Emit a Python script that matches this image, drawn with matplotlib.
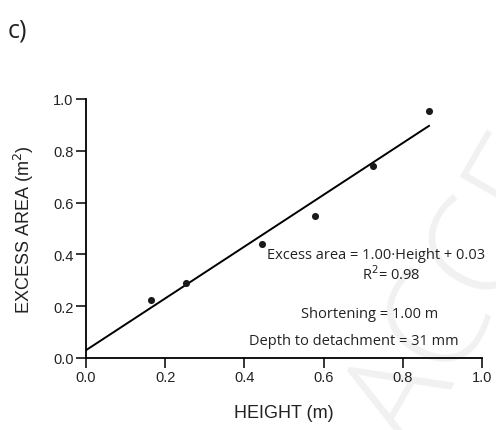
import matplotlib
matplotlib.use("Agg")
import matplotlib.pyplot as plt
import numpy as np

# measured structures: relief height vs excess area
height = [0.165, 0.252, 0.444, 0.577, 0.724, 0.866]
excess_area = [0.225, 0.290, 0.440, 0.550, 0.742, 0.954]

slope = 1.00
intercept = 0.03
r_squared = 0.98
shortening = 1.00
depth_mm = 31

ticks = [0.0, 0.2, 0.4, 0.6, 0.8, 1.0]

fig = plt.figure(figsize=(4.96, 4.31), dpi=100)

# faint watermark behind everything
fig.text(0.835, -0.055, "ACCEPTED MANUSCRIPT", rotation=60, rotation_mode="anchor",
         ha="left", va="baseline", fontsize=100, family="Open Sans",
         fontweight="light", color="#f1f1f1", zorder=-5)

ax = fig.add_axes([0.1734, 0.1671, 0.7984, 0.601])
ax.patch.set_alpha(0)

ax.scatter(height, excess_area, s=26, color="#1a1a1a", zorder=3, linewidths=0)

fit_x = np.array([0.0, max(height)])
ax.plot(fit_x, slope * fit_x + intercept, color="black", lw=1.4, zorder=2)

ax.set_xlim(0, 1.0)
ax.set_ylim(0, 1.0)
ax.set_xticks(ticks)
ax.set_yticks(ticks)
ax.set_xticklabels([f"{t:.1f}" for t in ticks], family="Liberation Sans", fontsize=10.5, color="#222222")
ax.set_yticklabels([f"{t:.1f}" for t in ticks], family="Liberation Sans", fontsize=10.5, color="#222222")
ax.tick_params(direction="out", length=7, width=1.1, pad=2)
for side in ("top", "right"):
    ax.spines[side].set_visible(False)
for side in ("left", "bottom"):
    ax.spines[side].set_linewidth(1.3)

ax.set_xlabel("HEIGHT (m)", family="Liberation Sans", fontsize=13, color="#222222", labelpad=14)
ax.set_ylabel("EXCESS AREA (m$^2$)", family="Liberation Sans", fontsize=13, color="#222222", labelpad=12)

note = dict(family="Open Sans", fontsize=10.5, color="#222222", ha="center", va="baseline")
ax.text(0.732, 0.386, f"Excess area = {slope:.2f}\u00b7Height + {intercept:.2f}", **note)
ax.text(0.77, 0.305, f"R$^2$= {r_squared:.2f}", **note)
ax.text(0.717, 0.158, f"Shortening = {shortening:.2f} m", **note)
ax.text(0.677, 0.054, f"Depth to detachment = {depth_mm} mm", **note)

fig.text(0.016, 0.912, "c)", family="Open Sans", fontsize=18, color="#222222")

fig.savefig("out.png", dpi=100)
